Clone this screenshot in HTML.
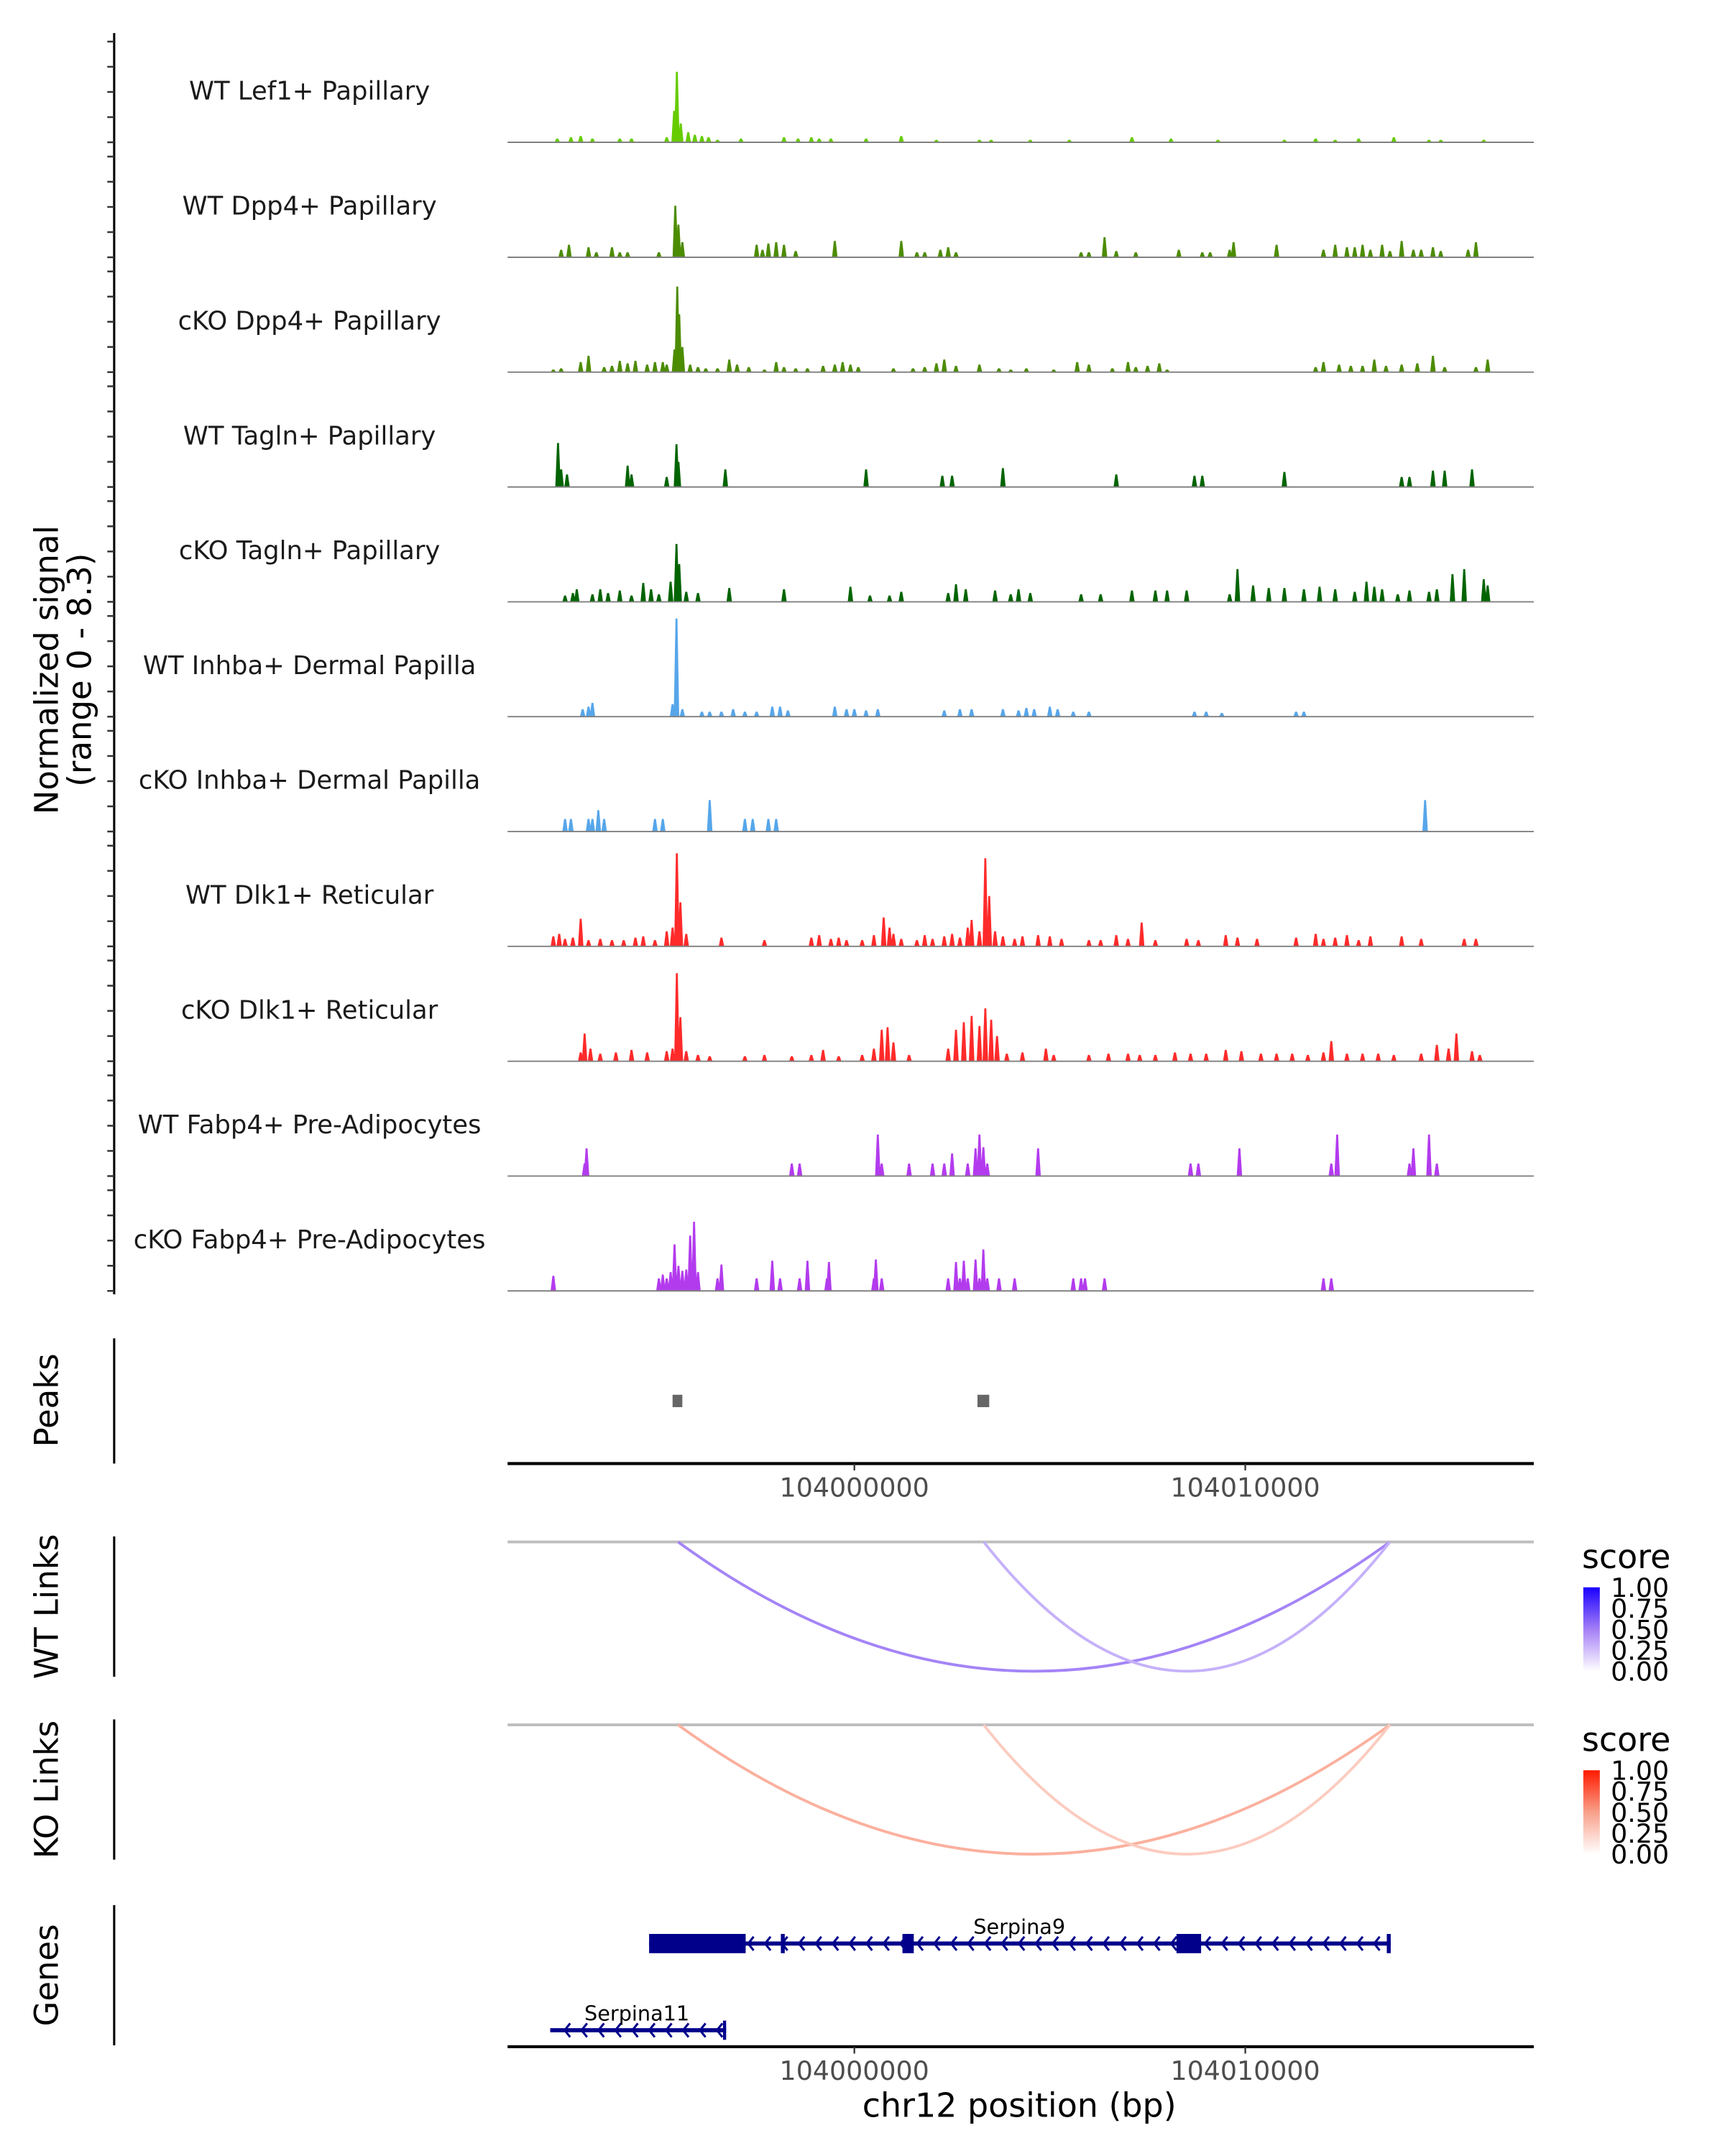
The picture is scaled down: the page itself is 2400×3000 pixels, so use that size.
<!DOCTYPE html>
<html><head><meta charset="utf-8">
<style>
html,body{margin:0;padding:0;background:#fff;}
svg{display:block;font-family:"DejaVu Sans","Liberation Sans",sans-serif;}
</style></head>
<body>
<svg id="chart" xmlns="http://www.w3.org/2000/svg" width="2400" height="3000" viewBox="0 0 1254 1567.4">
<rect width="1254" height="1567.4" fill="#fff"/>
<defs>
<linearGradient id="gBlue" x1="0" y1="1" x2="0" y2="0"><stop offset="0" stop-color="#ffffff"/><stop offset="0.5" stop-color="#a47ff6"/><stop offset="1" stop-color="#1a00ff"/></linearGradient>
<linearGradient id="gRed" x1="0" y1="1" x2="0" y2="0"><stop offset="0" stop-color="#ffffff"/><stop offset="0.5" stop-color="#f8a08a"/><stop offset="1" stop-color="#ff1a00"/></linearGradient>
</defs>
<g id="g"></g>
</svg>
<script>
// positions in kb offset from 103990000 bp; values in normalized signal units
const trackNames = ["WT Lef1+ Papillary","WT Dpp4+ Papillary","cKO Dpp4+ Papillary","WT Tagln+ Papillary","cKO Tagln+ Papillary","WT Inhba+ Dermal Papilla","cKO Inhba+ Dermal Papilla","WT Dlk1+ Reticular","cKO Dlk1+ Reticular","WT Fabp4+ Pre-Adipocytes","cKO Fabp4+ Pre-Adipocytes"];
const trackColors = ["#66cc00","#4c8c00","#4c8c00","#006400","#006400","#56a6ea","#56a6ea","#ff2a2a","#ff2a2a","#b33bee","#b33bee"];
const pos0 = [2.4,2.75,3.0,3.3,4.0,4.3,5.2,5.39,5.46,5.56,5.75,5.92,6.1,6.27,6.5,7.1,8.2,8.56,8.9,9.1,9.4,10.3,11.2,12.1,13.2,13.5,14.5,15.5,17.1,18.1,19.3,21.0,21.8,22.3,22.9,23.8,24.7,25.0,26.1];
const val0 = [0.3,0.4,0.5,0.3,0.3,0.3,0.4,2.5,5.6,1.5,0.8,0.6,0.5,0.4,0.2,0.3,0.4,0.3,0.4,0.3,0.3,0.3,0.5,0.2,0.2,0.2,0.2,0.2,0.4,0.3,0.2,0.2,0.3,0.2,0.3,0.4,0.2,0.2,0.2];
const pos1 = [2.5,2.7,3.2,3.4,3.8,4.0,4.2,5.0,5.42,5.5,5.6,7.5,7.65,7.8,8.0,8.2,8.5,9.5,11.2,11.6,11.8,12.2,12.4,12.6,15.8,16.0,16.4,16.7,17.2,18.3,18.9,19.1,19.6,19.7,20.8,22.0,22.3,22.6,22.8,23.0,23.2,23.5,23.7,24.0,24.3,24.5,24.8,25.0,25.7,25.9];
const val1 = [0.6,1.0,0.8,0.4,0.8,0.4,0.4,0.4,4.1,2.6,1.2,1.0,0.6,1.1,1.2,1.0,0.5,1.3,1.3,0.4,0.4,0.6,0.8,0.4,0.4,0.4,1.6,0.5,0.4,0.6,0.4,0.4,0.6,1.2,1.0,0.6,1.0,0.8,0.8,1.0,0.6,1.0,0.5,1.3,0.6,0.6,0.8,0.5,0.6,1.2];
const pos2 = [2.3,2.5,3.0,3.2,3.6,3.8,4.0,4.2,4.4,4.7,4.9,5.1,5.2,5.4,5.47,5.52,5.6,5.8,6.0,6.2,6.5,6.8,7.0,7.3,7.7,8.0,8.2,8.5,8.8,9.2,9.5,9.7,9.9,10.1,11.0,11.5,11.8,12.1,12.3,12.6,13.2,13.7,14.0,14.4,15.1,15.7,16.0,16.6,17.0,17.2,17.5,17.8,18.0,21.8,22.0,22.4,22.7,23.0,23.3,23.6,24.0,24.4,24.8,25.1,25.9,26.2];
const val2 = [0.2,0.3,0.8,1.3,0.4,0.5,0.9,0.7,0.9,0.6,0.8,0.8,0.6,1.8,6.8,4.6,2.0,0.6,0.4,0.3,0.3,1.0,0.6,0.4,0.2,0.8,0.4,0.3,0.3,0.5,0.6,0.8,0.6,0.4,0.3,0.3,0.4,0.7,1.0,0.5,0.6,0.3,0.2,0.3,0.2,0.8,0.6,0.3,0.8,0.4,0.5,0.7,0.2,0.4,0.8,0.6,0.5,0.5,1.0,0.5,0.6,0.7,1.3,0.4,0.4,1.0];
const pos3 = [2.42,2.5,2.65,4.2,4.3,5.2,5.45,5.5,6.7,10.3,12.25,12.5,13.8,16.7,18.7,18.9,21.0,24.0,24.2,24.8,25.1,25.8];
const val3 = [3.5,1.4,1.0,1.7,1.0,0.8,3.4,2.0,1.4,1.4,0.9,0.9,1.5,1.0,0.9,0.9,1.2,0.8,0.8,1.3,1.3,1.4];
const pos4 = [2.6,2.8,2.9,3.3,3.5,3.7,4.0,4.3,4.6,4.8,5.0,5.3,5.45,5.52,5.7,6.0,6.8,8.2,9.9,10.4,10.9,11.2,12.4,12.6,12.85,13.6,14.0,14.2,14.5,15.8,16.3,17.1,17.7,18.0,18.5,19.6,19.8,20.2,20.6,21.0,21.5,21.9,22.3,22.8,23.1,23.3,23.5,23.9,24.2,24.7,24.9,25.3,25.6,26.1,26.2];
const val4 = [0.5,0.7,1.0,0.6,1.0,0.7,0.9,0.5,1.5,1.0,0.6,1.6,4.6,3.0,0.8,0.7,1.1,1.0,1.2,0.5,0.5,0.8,0.7,1.4,1.0,0.9,0.6,1.0,0.7,0.6,0.6,0.9,0.9,0.9,0.9,0.6,2.6,1.3,1.1,1.1,1.0,1.2,1.0,0.8,1.6,1.2,1.0,0.6,0.9,0.8,1.0,2.2,2.6,1.8,1.3];
const pos5 = [3.05,3.2,3.3,5.35,5.45,5.6,6.1,6.3,6.6,6.9,7.2,7.5,7.9,8.1,8.3,9.5,9.8,10.0,10.3,10.6,12.3,12.7,13.0,13.8,14.2,14.4,14.6,15.0,15.2,15.6,16.0,18.7,19.0,19.4,21.3,21.5];
const val5 = [0.6,0.8,1.1,1.0,7.8,0.6,0.4,0.4,0.4,0.6,0.4,0.4,0.8,0.8,0.5,0.8,0.6,0.6,0.5,0.6,0.5,0.6,0.6,0.6,0.5,0.7,0.6,0.8,0.6,0.4,0.4,0.4,0.4,0.3,0.4,0.4];
const pos6 = [2.6,2.75,3.2,3.3,3.45,3.6,4.9,5.1,6.3,7.2,7.4,7.8,8.0,24.6];
const val6 = [1.0,1.0,1.0,1.0,1.7,1.0,1.0,1.0,2.5,1.0,1.0,1.0,1.0,2.5];
const pos7 = [2.3,2.45,2.6,2.8,3.0,3.2,3.5,3.8,4.1,4.4,4.6,4.9,5.2,5.35,5.46,5.55,5.7,6.6,7.7,8.9,9.1,9.4,9.6,9.8,10.2,10.5,10.75,10.9,11.0,11.2,11.6,11.8,12.0,12.3,12.5,12.7,12.9,13.0,13.2,13.35,13.45,13.6,13.8,14.1,14.3,14.7,15.0,15.3,16.0,16.3,16.7,17.0,17.35,17.7,18.5,18.8,19.5,19.8,20.3,21.3,21.8,22.0,22.3,22.6,22.9,23.2,24.0,24.5,25.6,25.9];
const val7 = [0.8,1.0,0.6,0.7,2.2,0.5,0.6,0.5,0.5,0.7,0.8,0.5,1.2,1.5,7.4,3.5,1.0,0.7,0.5,0.7,0.9,0.6,0.7,0.5,0.5,0.9,2.3,1.5,1.0,0.6,0.5,0.9,0.6,0.8,1.0,0.7,1.5,2.1,1.2,7.0,4.0,1.2,0.8,0.6,0.8,0.9,0.8,0.6,0.5,0.5,0.9,0.6,1.9,0.5,0.6,0.5,0.9,0.7,0.6,0.7,1.0,0.6,0.7,0.9,0.5,0.8,0.8,0.6,0.6,0.6];
const pos8 = [3.0,3.1,3.25,3.5,3.9,4.3,4.7,5.2,5.35,5.46,5.55,5.7,6.0,6.3,7.2,7.7,8.4,8.9,9.2,9.6,10.2,10.5,10.7,10.85,11.0,11.4,12.4,12.6,12.8,13.0,13.2,13.35,13.5,13.65,13.9,14.3,14.9,15.1,16.0,16.5,17.0,17.3,17.7,18.2,18.6,19.0,19.5,19.9,20.4,20.8,21.2,21.6,22.0,22.2,22.6,23.0,23.4,23.8,24.5,24.9,25.2,25.4,25.8,26.0];
const val8 = [0.7,2.2,1.0,0.6,0.7,0.9,0.7,0.8,1.0,7.0,3.5,0.8,0.5,0.4,0.4,0.5,0.4,0.5,0.9,0.4,0.5,1.0,2.5,2.7,1.5,0.5,1.0,2.5,3.1,3.6,2.8,4.2,3.3,2.0,0.6,0.7,1.0,0.5,0.5,0.6,0.6,0.5,0.5,0.7,0.6,0.6,0.9,0.8,0.6,0.6,0.6,0.5,0.7,1.6,0.6,0.6,0.6,0.5,0.6,1.3,1.0,2.2,0.8,0.5];
const pos9 = [3.1,3.15,8.4,8.6,10.6,10.7,11.4,12.0,12.3,12.5,12.9,13.1,13.2,13.3,13.4,14.7,18.6,18.8,19.85,22.2,22.35,24.2,24.3,24.7,24.9];
const val9 = [1.0,2.2,1.0,1.0,3.3,1.0,1.0,1.0,1.0,1.8,1.0,2.2,3.3,2.3,1.0,2.2,1.0,1.0,2.2,1.0,3.3,1.0,2.2,3.3,1.0];
const pos10 = [2.3,5.0,5.1,5.2,5.3,5.4,5.5,5.6,5.7,5.8,5.9,6.0,6.5,6.6,7.5,7.9,8.1,8.6,8.8,9.3,9.35,10.5,10.55,10.7,12.4,12.6,12.7,12.8,12.9,13.1,13.2,13.3,13.4,13.7,14.1,15.6,15.8,15.9,16.4,22.0,22.2];
const val10 = [1.2,1.0,1.3,1.0,1.5,3.7,2.0,1.6,1.7,4.4,5.5,1.5,1.0,2.1,1.0,2.4,1.0,1.0,2.4,1.0,2.3,1.0,2.5,1.0,1.0,2.3,1.0,2.4,1.0,2.5,1.0,3.3,1.0,1.0,1.0,1.0,1.0,1.0,1.0,1.0,1.0];
const trackPos = [pos0,pos1,pos2,pos3,pos4,pos5,pos6,pos7,pos8,pos9,pos10];
const trackVal = [val0,val1,val2,val3,val4,val5,val6,val7,val8,val9,val10];
const peakStart = [5.35,13.15];
const peakEnd = [5.6,13.45];
const xTicks = [10,20];
const xTickLabels = ["104000000","104010000"];
const linkStart = [5.49,13.31];
const linkEnd = [23.70,23.70];
const wtScore = [0.55,0.35];
const koScore = [0.45,0.3];
const legendTicks = ["1.00","0.75","0.50","0.25","0.00"];
const gene9ExonStart = [4.75,8.12,11.23,18.24,23.62];
const gene9ExonEnd = [7.22,8.22,11.52,18.87,23.72];
const gene11ExonStart = [6.64];
const gene11ExonEnd = [6.72];

const NS = "http://www.w3.org/2000/svg";
const G = document.getElementById('g');
function mk(tag, attrs, parent){const e=document.createElementNS(NS,tag);for(const k in attrs)e.setAttribute(k,attrs[k]);(parent||G).appendChild(e);return e;}
const X0=369, X1=1115, D0=1.13, D1=27.38;
function xs(kb){return X0+(kb-D0)/(D1-D0)*(X1-X0);}
const PXU=9.15;
function ys(base,v){return base-v*PXU;}
const trackBase=[103.4,187,270.5,354,437.5,521,604.5,688,771.5,855,938.5];

// left axis
let ax=mk('line',{x1:83,y1:24,x2:83,y2:941,stroke:'#000','stroke-width':1.6});


trackBase.forEach((b,i)=>{
  for(let v=0;v<=8;v+=2){
    const t=mk('line',{x1:78,x2:83,y1:ys(b,v),y2:ys(b,v),stroke:'#333','stroke-width':1.3});
    
    
  }
});
let yt=mk('text',{x:0,y:0,transform:'translate(42,487) rotate(-90)','text-anchor':'middle','font-size':23.5});


yt.textContent='Normalized signal';
let yt2=mk('text',{x:0,y:0,transform:'translate(66,487) rotate(-90)','text-anchor':'middle','font-size':23.5});


yt2.textContent='(range 0 - 8.3)';

// tracks
trackNames.forEach((nm,i)=>{
  const b=trackBase[i];
  const lab=mk('text',{x:225,y:b-31,'text-anchor':'middle','font-size':18.5,fill:'#1a1a1a'});
  
  
  lab.textContent=nm;
  const ps=trackPos[i], vs=trackVal[i];
  const w=0.07;
  let d='';
  ps.forEach((p,j)=>{
    const x=xs(p), hw=w*(X1-X0)/(D1-D0), y=ys(b,vs[j]);
    d+=`M${(x-hw).toFixed(2)},${b}L${(x-hw*0.35).toFixed(2)},${y.toFixed(2)}L${(x+hw*0.35).toFixed(2)},${y.toFixed(2)}L${(x+hw).toFixed(2)},${b}Z`;
  });
  const a=mk('path',{d:d,fill:trackColors[i]});
  
  
  const bl=mk('line',{x1:X0,x2:X1,y1:b,y2:b,stroke:'#808080','stroke-width':1});
  
  
});

// peaks panel
let pa=mk('line',{x1:83,y1:973,x2:83,y2:1064,stroke:'#000','stroke-width':1.6});


let pt=mk('text',{x:0,y:0,transform:'translate(42,1018) rotate(-90)','text-anchor':'middle','font-size':23.5});


pt.textContent='Peaks';
peakStart.forEach((s,i)=>{
  const r=mk('rect',{x:xs(s),y:1014,width:xs(peakEnd[i])-xs(s),height:9,fill:'#666'});
  
  
});
function xAxis(y){
  const l=mk('line',{x1:X0,x2:X1,y1:y,y2:y,stroke:'#000','stroke-width':2.2});
  
  
  xTicks.forEach((t,i)=>{
    const tk=mk('line',{x1:xs(t),x2:xs(t),y1:y,y2:y+5,stroke:'#333','stroke-width':1.2});
    
    
    const tl=mk('text',{x:xs(t),y:y+24,'text-anchor':'middle','font-size':19,fill:'#4d4d4d'});
    
    
    tl.textContent=xTickLabels[i];
  });
}
xAxis(1064);

// links
function lerp(c0,c1,t){return 'rgb('+c0.map((c,k)=>Math.round(c+(c1[k]-c)*t)).join(',')+')';}
function linkPanel(base,title,scores,c1,grad,nameKey){
  const a=mk('line',{x1:83,y1:base-4,x2:83,y2:base+98,stroke:'#000','stroke-width':1.6});
  
  
  const t=mk('text',{x:0,y:0,transform:`translate(42,${base+47}) rotate(-90)`,'text-anchor':'middle','font-size':23.5});
  
  
  t.textContent=title;
  const bl=mk('line',{x1:X0,x2:X1,y1:base,y2:base,stroke:'#bebebe','stroke-width':2});
  
  
  linkStart.forEach((s,i)=>{
    const x0=xs(s),x1=xs(linkEnd[i]);
    const p=mk('path',{d:`M${x0},${base}Q${(x0+x1)/2},${base+188} ${x1},${base}`,fill:'none',stroke:lerp([255,255,255],c1,scores[i]),'stroke-width':2});
    
    
  });
  const lt=mk('text',{x:1150,y:base+19,'font-size':24});
  
  
  lt.textContent='score';
  const cb=mk('rect',{x:1151,y:base+33,width:12,height:61,fill:grad});
  
  
  legendTicks.forEach((l,i)=>{
    const tx=mk('text',{x:1171,y:base+40+i*15.2,'font-size':19});
    
    
    tx.textContent=l;
  });
}
linkPanel(1121,'WT Links',wtScore,[90,31,240],'url(#gBlue)','wt-links');
linkPanel(1254,'KO Links',koScore,[245,80,40],'url(#gRed)','ko-links');

// genes
let ga=mk('line',{x1:83,y1:1385,x2:83,y2:1487,stroke:'#000','stroke-width':1.6});


let gt=mk('text',{x:0,y:0,transform:'translate(42,1436) rotate(-90)','text-anchor':'middle','font-size':23.5});


gt.textContent='Genes';
function gene(name,start,end,y,exS,exE,labelX,key){
  const gg=mk('g',{});
  
  
  mk('line',{x1:xs(start),x2:xs(end),y1:y,y2:y,stroke:'#00008b','stroke-width':3},gg);
  let d='';
  for(let x=xs(start)+12;x<xs(end)-3;x+=12.3){d+=`M${x+2.5},${y-5}L${x-1.5},${y}L${x+2.5},${y+5}`;}
  mk('path',{d:d,fill:'none',stroke:'#00008b','stroke-width':1.6},gg);
  exS.forEach((s,i)=>{
    const w=Math.max(xs(exE[i])-xs(s),2);
    mk('rect',{x:xs(s),y:y-7,width:w,height:14,fill:'#00008b'},gg);
  });
  const tx=mk('text',{x:labelX,y:y-7,'text-anchor':'middle','font-size':15},gg);
  
  
  tx.textContent=name;
}
gene('Serpina9',4.75,23.72,1413,gene9ExonStart,gene9ExonEnd,741,'gene-serpina9');
gene('Serpina11',2.22,6.72,1476,gene11ExonStart,gene11ExonEnd,463,'gene-serpina11');
xAxis(1488);
let xt=mk('text',{x:741,y:1539,'text-anchor':'middle','font-size':24});


xt.textContent='chr12 position (bp)';
</script>
</body></html>
